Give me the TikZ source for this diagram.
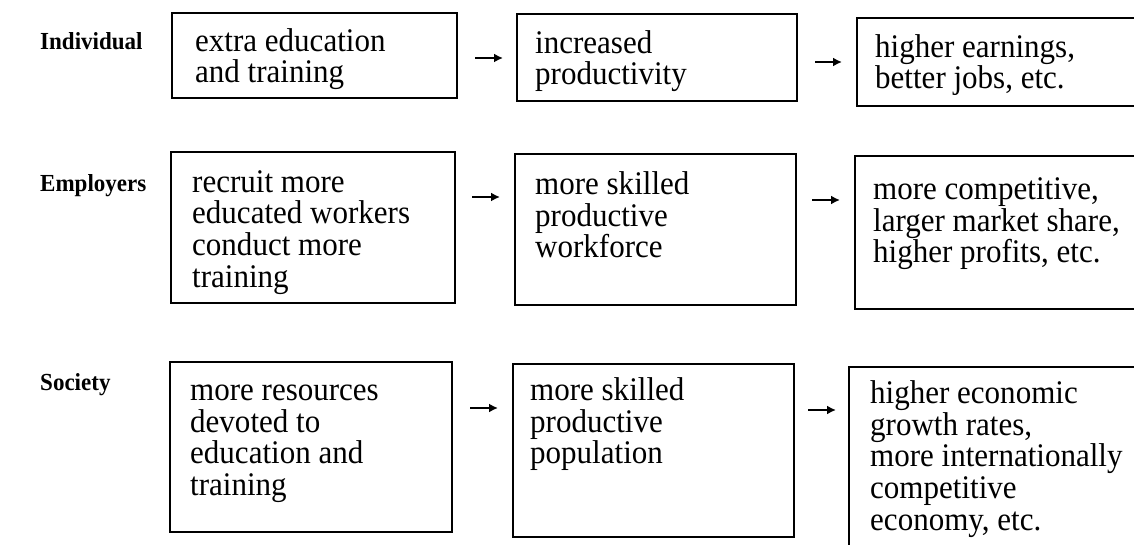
\documentclass[tikz,border=0pt]{standalone}
\usepackage{fontspec}
\setmainfont{Liberation Serif}[FakeStretch=0.94]
\usetikzlibrary{calc,arrows.meta}
\begin{document}
\begin{tikzpicture}[x=1pt,y=-1pt,
  box/.style={draw, line width=2.6pt, inner sep=0pt, outer sep=0pt, anchor=north west},
  txt/.style={inner sep=0pt, anchor=north west, align=left,
              font=\fontsize{33}{31.8}\selectfont},
  lbl/.style={inner sep=0pt, anchor=base west,
              font=\bfseries\fontsize{24.5}{28}\selectfont},
  arr/.style={line width=2.2pt, -{Latex[length=9pt,width=9pt]}}
]
\clip (0,0) rectangle (1134,545);
\fill[white] (0,0) rectangle (1134,545);

% row labels
\node[lbl] (lind) at (40,50)  {Individual};
\node[lbl] (lemp) at (40,192) {Employers};
\node[lbl] (lsoc) at (40,390) {Society};

% boxes
\node[box, minimum width=285pt, minimum height=85pt]  (b11) at (172,13)  {};
\node[box, minimum width=280pt, minimum height=87pt]  (b12) at (517,14)  {};
\node[box, minimum width=300pt, minimum height=88pt]  (b13) at (857,18)  {};
\node[box, minimum width=284pt, minimum height=151pt] (b21) at (171,152) {};
\node[box, minimum width=281pt, minimum height=151pt] (b22) at (515,154) {};
\node[box, minimum width=300pt, minimum height=153pt] (b23) at (855,156) {};
\node[box, minimum width=282pt, minimum height=170pt] (b31) at (170,362) {};
\node[box, minimum width=281pt, minimum height=173pt] (b32) at (513,364) {};
\node[box, minimum width=300pt, minimum height=250pt] (b33) at (849,367) {};

% box texts (first baseline 24pt below the node top)
\node[txt] (t11) at ($(b11.north west)+(23,14)$) {\rule{0pt}{24pt}extra education\\and training};
\node[txt] (t12) at ($(b12.north west)+(18,15)$) {\rule{0pt}{24pt}increased\\productivity};
\node[txt] (t13) at ($(b13.north west)+(18,15)$) {\rule{0pt}{24pt}higher earnings,\\better jobs, etc.};
\node[txt] (t21) at ($(b21.north west)+(21,16)$) {\rule{0pt}{24pt}recruit more\\educated workers\\conduct more\\training};
\node[txt] (t22) at ($(b22.north west)+(20,16)$) {\rule{0pt}{24pt}more skilled\\productive\\workforce};
\node[txt] (t23) at ($(b23.north west)+(18,19)$) {\rule{0pt}{24pt}more competitive,\\larger market share,\\higher profits, etc.};
\node[txt] (t31) at ($(b31.north west)+(20,14)$) {\rule{0pt}{24pt}more resources\\devoted to\\education and\\training};
\node[txt] (t32) at ($(b32.north west)+(17,12)$) {\rule{0pt}{24pt}more skilled\\productive\\population};
\node[txt] (t33) at ($(b33.north west)+(21,12)$) {\rule{0pt}{24pt}higher economic\\growth rates,\\more internationally\\competitive\\economy, etc.};

% connectors
\draw[arr] ($(b11.north east)+(18,45)$) -- ($(b12.north west)+(-14,44)$);
\draw[arr] ($(b12.north east)+(18,48)$) -- ($(b13.north west)+(-15,44)$);
\draw[arr] ($(b21.north east)+(17,45)$) -- ($(b22.north west)+(-15,43)$);
\draw[arr] ($(b22.north east)+(16,46)$) -- ($(b23.north west)+(-15,44)$);
\draw[arr] ($(b31.north east)+(18,46)$) -- ($(b32.north west)+(-15,44)$);
\draw[arr] ($(b32.north east)+(14,46)$) -- ($(b33.north west)+(-13,43)$);
\end{tikzpicture}
\end{document}
